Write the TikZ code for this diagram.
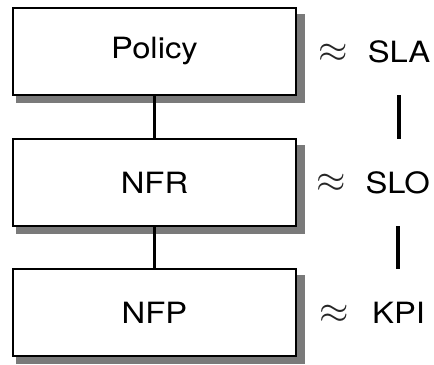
\documentclass[tikz,border=0pt]{standalone}
\usepackage{graphicx}
\usepackage{fontspec}
\setmainfont{TeX Gyre Heros}[FakeStretch=1.12]
\usetikzlibrary{shadows}

\begin{document}
\begin{tikzpicture}[
	layer/.style={draw, line width=1.7pt, fill=white, minimum width=8.49cm, minimum height=2.61cm, font=\fontsize{25}{30}\selectfont, drop shadow={shadow xshift=0.18cm, shadow yshift=-0.21cm, shadow scale=1.02, fill=black!52, opacity=1}},
	tag/.style={minimum height=2.61cm, inner sep=0pt, font=\fontsize{25}{30}\selectfont},
	sim/.style={inner sep=0pt, font=\fontsize{24.88}{30}\selectfont, text=black!85},
	link/.style={line width=3.2pt}
]
	\useasboundingbox (0,0) rectangle (13.02,-10.95);
	% requirement layers
	\node [layer] (policy) at (4.635,-1.545) {Policy};
	\node [layer] (nfr) at (4.635,-5.475) {NFR};
	\node [layer] (nfp) at (4.635,-9.375) {NFP};
	\draw [link] (policy) -- (nfr);
	\draw [link] (nfr) -- (nfp);
	% service level terms
	\node [sim] (s1) at (10.0,-1.6) {\scalebox{1.3}{$\approx$}};
	\node [sim] (s2) at (9.95,-5.5) {\scalebox{1.3}{$\approx$}};
	\node [sim] (s3) at (10.02,-9.42) {\scalebox{1.3}{$\approx$}};
	\node [tag] (sla) at (11.97,-1.545) {SLA};
	\node [tag] (slo) at (11.93,-5.475) {SLO};
	\node [tag] (kpi) at (11.96,-9.375) {KPI};
	\draw [link] (sla.south) -- (sla.south |- slo.north);
	\draw [link] (slo.south) -- (slo.south |- kpi.north);
\end{tikzpicture}
\end{document}
